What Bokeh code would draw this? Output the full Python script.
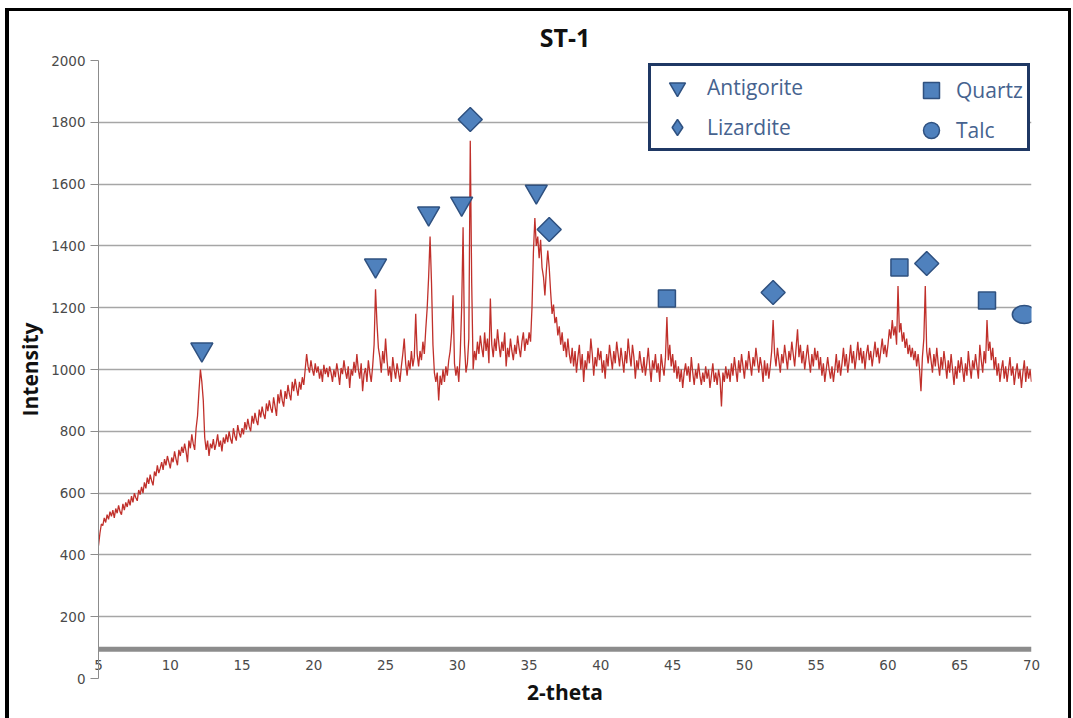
import numpy as np
from bokeh.plotting import figure
from bokeh.models import Legend, LegendItem, FixedTicker, Range1d, Span
from bokeh.embed import file_html
from bokeh.resources import INLINE

# ---------------- data ----------------
two_theta_start = 5.0
two_theta_step = 0.1
intensity = [
    430, 470, 500, 495, 520, 505, 530, 515, 540, 525,      # 5
    545, 520, 550, 535, 560, 540, 530, 565, 545, 570,      # 6
    555, 580, 560, 590, 570, 600, 585, 575, 610, 595,      # 7
    620, 600, 635, 615, 650, 630, 660, 640, 625, 670,      # 8
    655, 690, 665, 680, 700, 675, 710, 690, 720, 700,      # 9
    680, 715, 700, 735, 710, 690, 740, 720, 750, 730,      # 10
    760, 735, 700, 770, 745, 790, 760, 740, 810, 850,      # 11
    930, 1000, 960, 900, 780, 740, 770, 720, 760, 745,     # 12
    775, 740, 760, 790, 750, 770, 735, 780, 760, 790,      # 13
    765, 800, 775, 760, 810, 785, 770, 820, 795, 780,      # 14
    810, 790, 830, 805, 840, 815, 800, 850, 825, 860,      # 15
    835, 820, 870, 845, 880, 855, 840, 890, 865, 900,      # 16
    875, 860, 910, 880, 850, 920, 890, 935, 900, 880,      # 17
    930, 905, 950, 920, 900, 960, 930, 970, 940, 915,      # 18
    960, 935, 975, 950, 1000, 1050, 1010, 990, 1030, 1000, # 19
    980, 1020, 990, 1010, 970, 1000, 960, 1015, 985, 1005, # 20
    975, 1010, 990, 960, 1000, 975, 1020, 990, 950, 1005,  # 21
    985, 1030, 995, 970, 1010, 940, 1000, 980, 1025, 990,  # 22
    1050, 1000, 970, 1020, 930, 985, 1005, 960, 1030, 990, # 23
    960, 1010, 1080, 1260, 1150, 1070, 1040, 990, 1060, 1020,  # 24
    1100, 1030, 980, 1010, 960, 1040, 1000, 970, 1020, 990,    # 25
    960, 1010, 1050, 1100, 1020, 980, 1030, 1000, 1060, 1010,  # 26
    1040, 1180, 1050, 1010, 1060, 1030, 1090, 1050, 1130, 1200,# 27
    1300, 1430, 1280, 1080, 990, 960, 990, 900, 980, 950,      # 28
    1000, 960, 1010, 980, 1030, 1060, 1120, 1240, 1020, 980,   # 29
    1010, 960, 1050, 1200, 1460, 1080, 990, 1020, 1100, 1740,  # 30
    1280, 1000, 1060, 1030, 1090, 1050, 1110, 1070, 1040, 1120,# 31
    1060, 1100, 1020, 1230, 1080, 1040, 1100, 1060, 1130, 1080,# 32
    1040, 1090, 1060, 1120, 1010, 1070, 1040, 1100, 1060, 1030,# 33
    1080, 1050, 1110, 1070, 1040, 1090, 1120, 1060, 1100, 1080,# 34
    1120, 1090, 1200, 1380, 1490, 1400, 1430, 1360, 1420, 1330,# 35
    1300, 1240, 1320, 1385, 1330, 1250, 1180, 1210, 1150, 1170,# 36
    1110, 1140, 1080, 1120, 1060, 1090, 1040, 1100, 1050, 1020,# 37
    1070, 1010, 1060, 990, 1040, 1080, 1000, 1050, 960, 1030,  # 38
    1000, 1060, 1020, 1100, 1050, 980, 1040, 1010, 1070, 1030, # 39
    1060, 990, 1030, 970, 1050, 1010, 1080, 1040, 1000, 1060,  # 40
    1020, 1090, 1050, 1010, 1070, 1030, 990, 1060, 1020, 1100, # 41
    1050, 1010, 1080, 1040, 970, 1030, 1000, 1060, 1020, 990,  # 42
    1040, 980, 1020, 1070, 1010, 960, 1030, 1000, 1050, 990,   # 43
    1020, 960, 1050, 1010, 980, 1040, 1170, 1030, 1080, 1010,  # 44
    1050, 990, 1030, 970, 1010, 960, 1000, 940, 990, 1020,     # 45
    980, 1010, 960, 1040, 990, 950, 1000, 970, 1020, 980,      # 46
    950, 990, 960, 1010, 970, 1000, 940, 980, 1020, 960,       # 47
    990, 950, 1000, 970, 880, 990, 960, 1010, 970, 1000,       # 48
    960, 1020, 980, 1040, 1000, 960, 1030, 990, 1050, 1010,    # 49
    970, 1030, 1000, 1060, 1020, 980, 1040, 1010, 1070, 1030,  # 50
    990, 1040, 1010, 960, 1030, 980, 1020, 970, 1010, 1060,    # 51
    1160, 1050, 1010, 1070, 1030, 990, 1050, 1020, 1080, 1040, # 52
    1000, 1060, 1030, 1090, 1050, 1010, 1070, 1130, 1040, 1080,# 53
    1020, 1060, 1000, 1040, 1080, 1030, 990, 1050, 1010, 1070, # 54
    1030, 1060, 1000, 1040, 980, 1020, 960, 1000, 1040, 1000,  # 55
    970, 1010, 960, 1000, 1050, 990, 1030, 980, 1020, 1070,    # 56
    1010, 1050, 990, 1030, 1080, 1020, 1060, 1000, 1040, 1090, # 57
    1030, 1070, 1020, 1060, 1000, 1050, 1080, 1030, 1060, 1010,# 58
    1050, 1090, 1040, 1070, 1020, 1060, 1100, 1050, 1080, 1040,# 59
    1080, 1130, 1100, 1160, 1110, 1140, 1080, 1270, 1120, 1150,# 60
    1090, 1120, 1070, 1100, 1050, 1080, 1040, 1070, 1030, 1060,# 61
    1010, 1050, 1000, 930, 1040, 1100, 1270, 1060, 1020, 1070, # 62
    1030, 990, 1050, 1010, 1070, 1020, 980, 1040, 1000, 1060,  # 63
    1020, 970, 1030, 990, 1050, 1000, 950, 1010, 970, 1030,    # 64
    990, 1040, 1000, 960, 1020, 980, 1060, 1010, 970, 1030,    # 65
    1000, 1050, 1010, 970, 1080, 1030, 990, 1060, 1020, 1160,  # 66
    1060, 1090, 1030, 1070, 1000, 1040, 980, 1020, 960, 1000,  # 67
    1030, 970, 1010, 960, 1000, 1040, 980, 1010, 950, 990,     # 68
    1020, 970, 1000, 940, 990, 1030, 960, 1010, 970, 1000,     # 69
    960,                                                       # 70
]
two_theta = [round(two_theta_start + i * two_theta_step, 1) for i in range(len(intensity))]

antigorite_x = [12.2, 24.3, 28.0, 30.3, 35.5]
antigorite_y = [1065, 1337, 1505, 1537, 1576]
lizardite_x = [30.9, 36.4, 52.0, 62.7]
lizardite_y = [1809, 1453, 1249, 1343]
quartz_x = [44.6, 60.8, 66.9]
quartz_y = [1230, 1330, 1223]
talc_x = [69.5]
talc_y = [1178]

x_ticks = [5, 10, 15, 20, 25, 30, 35, 40, 45, 50, 55, 60, 65, 70]
y_ticks = [0, 200, 400, 600, 800, 1000, 1200, 1400, 1600, 1800, 2000]
x_axis_level = 95

# ---------------- figure ----------------
FILL = "#4f81bd"
EDGE = "#2f5180"
TXT_FONT = "Open Sans"

p = figure(width=1066, height=710, x_range=Range1d(5, 70), y_range=Range1d(0, 2000),
           output_backend="svg", toolbar_location=None, title="ST-1",
           min_border_left=89, min_border_right=44, min_border_top=49, min_border_bottom=43)
p.styles = {"margin-left": "5px", "margin-top": "8px",
            "border-top": "3px solid #000", "border-left": "4px solid #000",
            "border-right": "3px solid #000"}
p.outline_line_color = None
p.background_fill_color = "white"
p.border_fill_color = "white"

p.title.align = "center"
p.title.vertical_align = "top"
p.title.text_font = TXT_FONT
p.title.text_font_size = "25px"
p.title.text_font_style = "bold"
p.title.text_color = "#111111"

# axes
p.xaxis.ticker = FixedTicker(ticks=x_ticks)
p.yaxis.ticker = FixedTicker(ticks=y_ticks)
p.xaxis.axis_line_color = None
p.xaxis.major_tick_line_color = None
p.xaxis.minor_tick_line_color = None
p.xaxis.major_tick_out = 0
p.xaxis.major_tick_in = 0
p.xaxis.major_label_standoff = -19
p.xaxis.axis_label = "2-theta"
p.xaxis.axis_label_standoff = 5
p.yaxis.axis_label = "Intensity"
p.yaxis.axis_label_standoff = 4
p.yaxis.axis_line_color = "#8c8c8c"
p.yaxis.major_tick_line_color = "#8c8c8c"
p.yaxis.major_tick_out = 8
p.yaxis.major_tick_in = 0
p.yaxis.minor_tick_line_color = None
p.yaxis.major_label_standoff = 5
for ax in (p.xaxis, p.yaxis):
    ax.major_label_text_font = "DejaVu Sans"
    ax.major_label_text_font_size = "13.5px"
    ax.major_label_text_color = "#4a4a4a"
    ax.axis_label_text_font = TXT_FONT
    ax.axis_label_text_font_size = "21px"
    ax.axis_label_text_font_style = "bold"
    ax.axis_label_text_color = "#111111"

p.xgrid.grid_line_color = None
p.ygrid.ticker = FixedTicker(ticks=y_ticks)
p.ygrid.grid_line_color = "#a6a6a6"
p.ygrid.grid_line_width = 1.5

# thick horizontal base line of the x axis
p.add_layout(Span(location=x_axis_level, dimension="width",
                  line_color="#8c8c8c", line_width=5))

# pattern
p.line(two_theta, intensity, line_color="#c0302b", line_width=1.3)

# phase markers
r_ant = p.scatter(antigorite_x, antigorite_y, marker="inverted_triangle", size=22,
                  fill_color=FILL, line_color=EDGE, line_width=1.5)
p.scatter(lizardite_x, lizardite_y, marker="square", angle=np.pi / 4, size=17,
          fill_color=FILL, line_color=EDGE, line_width=1.5)
r_qua = p.scatter(quartz_x, quartz_y, marker="square", size=17,
                  fill_color=FILL, line_color=EDGE, line_width=1.5)
p.ellipse(talc_x, talc_y, width=24, height=18, width_units="screen", height_units="screen",
          fill_color=FILL, line_color=EDGE, line_width=1.5)

# legend keys (not shown in the plot area)
r_liz_leg = p.scatter(x=[np.nan], y=[np.nan], marker="diamond", size=20,
                      fill_color=FILL, line_color=EDGE, line_width=1.5)
r_talc_leg = p.scatter(x=[np.nan], y=[np.nan], marker="circle", size=18,
                       fill_color=FILL, line_color=EDGE, line_width=1.5)

def style_legend(lg):
    lg.glyph_width = 40
    lg.glyph_height = 40
    lg.label_height = 40
    lg.spacing = 0
    lg.padding = 1
    lg.margin = 0
    lg.label_standoff = 5
    lg.label_text_font = TXT_FONT
    lg.label_text_font_size = "21px"
    lg.label_text_color = "#46638f"
    lg.border_line_color = "#1f3864"
    lg.border_line_width = 3

leg_a = Legend(items=[LegendItem(label="Antigorite", renderers=[r_ant]),
                      LegendItem(label="Lizardite", renderers=[r_liz_leg])],
               location=(550, 527))
style_legend(leg_a)
leg_a.glyph_width = 50
leg_a.label_width = 319
leg_a.border_line_alpha = 1
leg_a.background_fill_color = "white"
leg_a.background_fill_alpha = 1

leg_b = Legend(items=[LegendItem(label="Quartz", renderers=[r_qua]),
                      LegendItem(label="Talc", renderers=[r_talc_leg])],
               location=(812, 527))
style_legend(leg_b)
leg_b.label_width = 85
leg_b.border_line_alpha = 0
leg_b.background_fill_alpha = 0

p.add_layout(leg_a)
p.add_layout(leg_b)

open("out.html", "w").write(file_html(p, INLINE))
